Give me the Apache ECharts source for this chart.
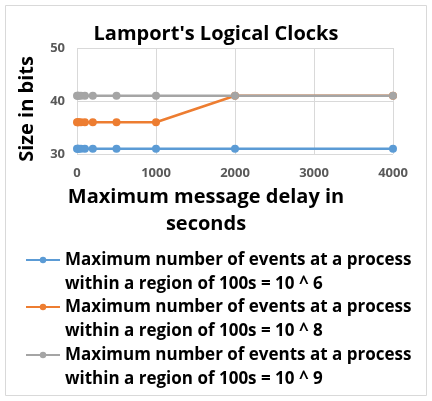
<!DOCTYPE html>
<html>
<head>
<meta charset="utf-8">
<script src="https://cdn.jsdelivr.net/npm/echarts@6/dist/echarts.min.js"></script>
<style>
  html, body { margin: 0; padding: 0; background: #fff; }
  #chart { width: 432px; height: 401px; }
</style>
</head>
<body>
<div id="chart"></div>
<script>
// max message delay (s)
var delays = [0, 10, 20, 50, 100, 200, 500, 1000, 2000, 4000];
// size in bits for each events bound
var bits6 = [31, 31, 31, 31, 31, 31, 31, 31, 31, 31];
var bits8 = [36, 36, 36, 36, 36, 36, 36, 36, 41, 41];
var bits9 = [41, 41, 41, 41, 41, 41, 41, 41, 41, 41];
var seriesNames = [
  'Maximum number of events at a process\nwithin a region of 100s = 10 ^ 6',
  'Maximum number of events at a process\nwithin a region of 100s = 10 ^ 8',
  'Maximum number of events at a process\nwithin a region of 100s = 10 ^ 9'
];
var colors = ['#5B9BD5', '#ED7D31', '#A5A5A5'];
var legendTops = [224, 271, 319];

var font = 'Open Sans';

function pairs(ys) {
  var out = [];
  for (var i = 0; i < delays.length; i++) out.push([delays[i], ys[i]]);
  return out;
}

function mkSeries(name, ys, color) {
  return {
    name: name,
    type: 'line',
    data: pairs(ys),
    symbol: 'circle',
    symbolSize: 8,
    color: color,
    lineStyle: { width: 2.5, color: color },
    itemStyle: { color: color },
    animation: false
  };
}

function mkLegend(i) {
  return {
    orient: 'vertical',
    left: 25,
    top: legendTops[i],
    padding: 0,
    itemWidth: 34,
    itemHeight: 8,
    data: [seriesNames[i]],
    // blank first line so the icon sits on the first text line
    formatter: function (name) { return '\n' + name; },
    textStyle: {
      fontFamily: font, fontWeight: 'bold', fontSize: 17, color: '#000',
      lineHeight: 24
    }
  };
}

var chart = echarts.init(document.getElementById('chart'));
chart.setOption({
  backgroundColor: '#fff',
  color: colors,
  graphic: [{
    type: 'rect',
    shape: { x: 5.5, y: 5.5, width: 421, height: 390 },
    style: { fill: 'none', stroke: '#D9D9D9', lineWidth: 1 },
    silent: true
  }],
  title: {
    text: "Lamport's Logical Clocks",
    left: 'center',
    top: 19,
    padding: [5, 0, 5, 10],
    textStyle: { fontFamily: font, fontWeight: 'bold', fontSize: 20, color: '#000' }
  },
  grid: { left: 77, top: 48, width: 316, height: 106 },
  xAxis: {
    type: 'value',
    min: 0,
    max: 4000,
    interval: 1000,
    name: 'Maximum message delay in\nseconds',
    nameLocation: 'middle',
    nameGap: 30,
    nameTextStyle: {
      fontFamily: font, fontWeight: 'bold', fontSize: 20, color: '#000',
      lineHeight: 27, padding: [0, 58, 0, 0]
    },
    axisLine: { show: false },
    axisTick: { show: false },
    axisLabel: {
      fontFamily: font, fontWeight: 'bold', fontSize: 13, color: '#595959', margin: 13,
      formatter: function (v) { return String(v); }
    },
    splitLine: { show: true, lineStyle: { color: '#D9D9D9', width: 1 } }
  },
  yAxis: {
    type: 'value',
    min: 30,
    max: 50,
    interval: 10,
    name: 'Size in bits',
    nameLocation: 'middle',
    nameGap: 40,
    nameTextStyle: {
      fontFamily: font, fontWeight: 'bold', fontSize: 20, color: '#000',
      padding: [0, 16, 0, 0]
    },
    axisLine: { show: false },
    axisTick: { show: false },
    axisLabel: { fontFamily: font, fontWeight: 'bold', fontSize: 13, color: '#595959', margin: 12 },
    splitLine: { show: true, lineStyle: { color: '#D9D9D9', width: 1 } }
  },
  legend: [mkLegend(0), mkLegend(1), mkLegend(2)],
  series: [
    mkSeries(seriesNames[0], bits6, colors[0]),
    mkSeries(seriesNames[1], bits8, colors[1]),
    mkSeries(seriesNames[2], bits9, colors[2])
  ]
});
</script>
</body>
</html>
